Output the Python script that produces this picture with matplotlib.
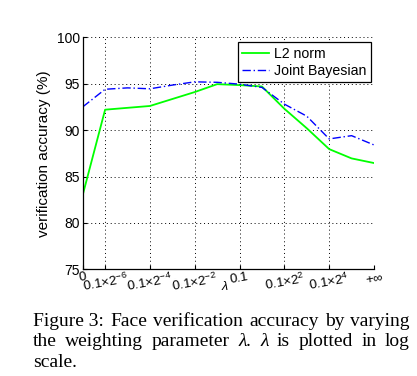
import matplotlib
matplotlib.use('Agg')
import matplotlib.pyplot as plt

plt.rcParams['font.family'] = ['Liberation Sans', 'DejaVu Sans']
plt.rcParams['mathtext.fontset'] = 'custom'
plt.rcParams['mathtext.rm'] = 'Liberation Sans'
plt.rcParams['mathtext.it'] = 'Liberation Sans:italic'

# lambda positions: 0, 0.1x2^-6 ... 0.1x2^5, +inf  (one step per power of two)
x_idx = list(range(14))
l2_norm = [83.0, 92.2, 92.4, 92.6, 93.35, 94.1, 94.95, 94.85, 94.7, 92.3, 90.2, 87.95, 86.95, 86.45]
joint_bayes = [92.5, 94.4, 94.55, 94.45, 94.85, 95.2, 95.15, 94.95, 94.6, 92.8, 91.5, 89.05, 89.4, 88.4]

xtick_pos = [0, 1, 3, 5, 7, 9, 11, 13]
xtick_labels = ['0', r'0.1$\times$2$^{-6}$', r'0.1$\times$2$^{-4}$', r'0.1$\times$2$^{-2}$',
                '0.1', r'0.1$\times$2$^{2}$', r'0.1$\times$2$^{4}$', r'+$\infty$']
yticks = [75, 80, 85, 90, 95, 100]

W, H = 417, 376
fig = plt.figure(figsize=(W / 100, H / 100), dpi=100)
ax = fig.add_axes([82.7 / W, 1 - 269.3 / H, (374 - 82.7) / W, (269.3 - 37.3) / H])

ax.plot(x_idx, l2_norm, color=(0, 1, 0), lw=1.3, label='L2 norm')
ax.plot(x_idx, joint_bayes, color=(0, 0, 1), lw=1.0, linestyle=(0, (6, 2, 1, 2)), label='Joint Bayesian')

ax.set_xlim(0, 13)
ax.set_ylim(75, 100)
ax.set_xticks(xtick_pos)
ax.set_xticklabels(xtick_labels, rotation=10, ha='center', va='top', fontsize=9.5)
ax.set_yticks(yticks)
ax.tick_params(axis='y', labelsize=10, direction='in', length=3, pad=2)
ax.tick_params(axis='x', direction='in', length=3, pad=1)
ax.grid(True, color='black', linestyle=(0, (1, 3)), lw=0.7)
ax.spines['top'].set_visible(False)
ax.spines['right'].set_visible(False)
for s in ['left', 'bottom']:
    ax.spines[s].set_linewidth(0.9)

ax.set_ylabel('verification accuracy (%)', fontsize=11, labelpad=4)
fig.text(225.5 / W, 1 - 287 / H, r'$\lambda$', fontsize=9, ha='center', va='center')

leg = ax.legend(loc='upper right', bbox_to_anchor=(0.99, 0.978), borderaxespad=0,
                fontsize=10.2, fancybox=False, framealpha=1, edgecolor='black',
                handlelength=1.9, handletextpad=0.4, borderpad=0.3, labelspacing=0.25)
leg.get_frame().set_linewidth(0.9)

# caption, justified between x=33 and x=410
caption = [
    ['Figure 3:', 'Face', 'verification', 'accuracy', 'by', 'varying'],
    ['the', 'weighting', 'parameter', 'λ.', 'λ', 'is', 'plotted', 'in', 'log'],
    ['scale.'],
]
baselines = [326, 346.5, 367]
fig.canvas.draw()
rend = fig.canvas.get_renderer()
for words, yb in zip(caption, baselines):
    texts = []
    for w in words:
        style = 'italic' if w.startswith('λ') else 'normal'
        t = fig.text(0, 1 - yb / H, w, fontsize=14, family='Liberation Serif',
                     style=style, va='baseline', ha='left')
        texts.append(t)
    widths = [t.get_window_extent(rend).width for t in texts]
    if len(texts) > 1:
        gap = (410 - 33 - sum(widths)) / (len(texts) - 1)
    else:
        gap = 0
    x = 33
    for t, w in zip(texts, widths):
        t.set_x(x / W)
        x += w + gap

fig.savefig('out.png', dpi=100)
